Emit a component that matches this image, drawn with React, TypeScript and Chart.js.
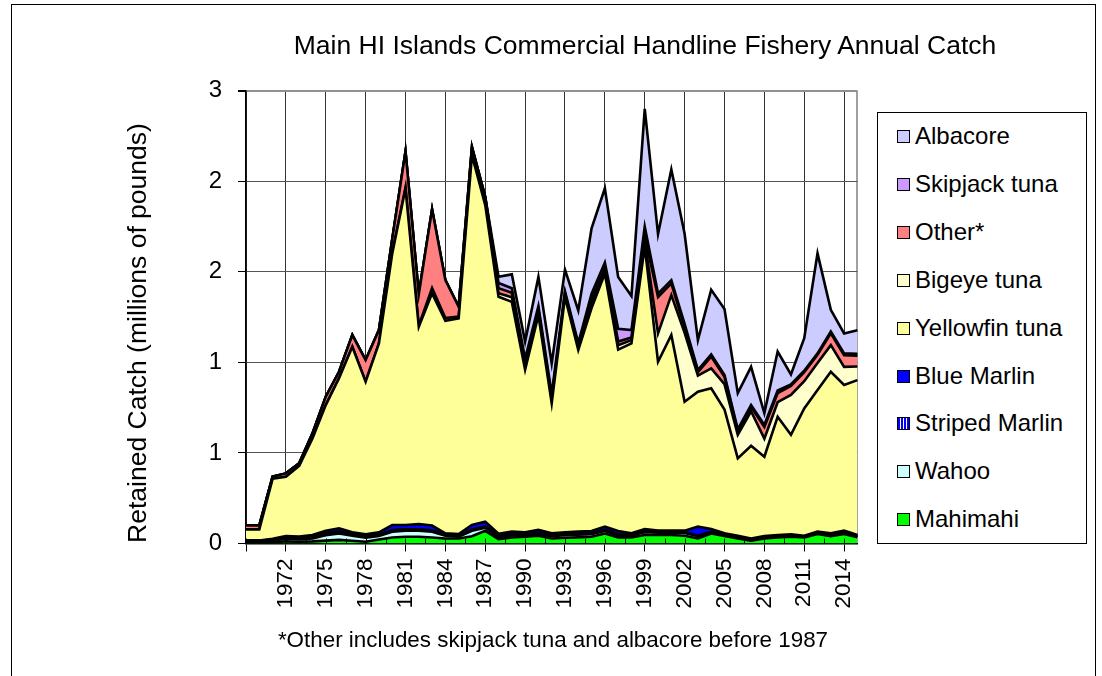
import React, { useEffect, useRef } from "react";
import { Chart, registerables } from "chart.js";

Chart.register(...registerables);

const FONT = "'Liberation Sans', Arial, sans-serif";

const years = [
  "1969", "1970", "1971", "1972", "1973", "1974", "1975", "1976", "1977", "1978",
  "1979", "1980", "1981", "1982", "1983", "1984", "1985", "1986", "1987", "1988",
  "1989", "1990", "1991", "1992", "1993", "1994", "1995", "1996", "1997", "1998",
  "1999", "2000", "2001", "2002", "2003", "2004", "2005", "2006", "2007", "2008",
  "2009", "2010", "2011", "2012", "2013", "2014", "2015",
];

const yTicks = [0, 0.5, 1, 1.5, 2, 2.5];

const mahimahi = [
  0.004, 0.004, 0.006, 0.012, 0.010, 0.012, 0.016, 0.020, 0.015, 0.010,
  0.022, 0.033, 0.037, 0.037, 0.033, 0.028, 0.028, 0.040, 0.070, 0.024,
  0.033, 0.037, 0.043, 0.028, 0.032, 0.034, 0.037, 0.055, 0.034, 0.034,
  0.047, 0.047, 0.047, 0.043, 0.028, 0.055, 0.041, 0.028, 0.015, 0.028,
  0.034, 0.037, 0.034, 0.052, 0.041, 0.052, 0.034,
];
const wahoo = [
  0.006, 0.006, 0.008, 0.016, 0.012, 0.016, 0.030, 0.035, 0.028, 0.022,
  0.019, 0.032, 0.033, 0.033, 0.032, 0.015, 0.009, 0.030, 0.017, 0.012,
  0.012, 0.008, 0.009, 0.012, 0.014, 0.014, 0.014, 0.014, 0.012, 0.010,
  0.015, 0.012, 0.012, 0.015, 0.012, 0.005, 0.003, 0.003, 0.003, 0.003,
  0.003, 0.003, 0.003, 0.004, 0.006, 0.008, 0.006,
];
const stripedMarlin = [
  0.003, 0.003, 0.004, 0.005, 0.008, 0.012, 0.010, 0.012, 0.008, 0.008,
  0.008, 0.010, 0.008, 0.008, 0.008, 0.005, 0.005, 0.008, 0.008, 0.006,
  0.006, 0.005, 0.006, 0.005, 0.005, 0.005, 0.005, 0.006, 0.005, 0.004,
  0.005, 0.004, 0.004, 0.004, 0.004, 0.004, 0.003, 0.003, 0.003, 0.003,
  0.003, 0.003, 0.002, 0.003, 0.003, 0.003, 0.002,
];
const blueMarlin = [
  0.004, 0.004, 0.008, 0.008, 0.008, 0.007, 0.015, 0.017, 0.011, 0.011,
  0.013, 0.027, 0.024, 0.029, 0.026, 0.008, 0.010, 0.025, 0.025, 0.012,
  0.015, 0.012, 0.017, 0.011, 0.011, 0.013, 0.013, 0.018, 0.018, 0.008,
  0.013, 0.008, 0.008, 0.009, 0.049, 0.016, 0.009, 0.009, 0.007, 0.007,
  0.007, 0.008, 0.004, 0.007, 0.006, 0.008, 0.005,
];
const yellowfin = [
  0.061, 0.061, 0.331, 0.328, 0.390, 0.533, 0.693, 0.828, 1.024, 0.842,
  1.043, 1.498, 1.858, 1.090, 1.282, 1.174, 1.191, 2.041, 1.748, 1.308,
  1.268, 0.898, 1.186, 0.718, 1.300, 1.002, 1.231, 1.398, 1.001, 1.049,
  1.560, 0.932, 1.080, 0.712, 0.745, 0.777, 0.684, 0.427, 0.512, 0.438,
  0.653, 0.549, 0.703, 0.781, 0.892, 0.804, 0.855,
];
const bigeye = [
  0, 0, 0, 0, 0, 0, 0, 0, 0, 0,
  0, 0.004, 0.005, 0.005, 0.030, 0.015, 0.010, 0.010, 0.010, 0.020,
  0.025, 0.020, 0.015, 0.015, 0.010, 0.013, 0.030, 0.015, 0.025, 0.018,
  0.030, 0.157, 0.220, 0.380, 0.089, 0.110, 0.140, 0.130, 0.190, 0.100,
  0.080, 0.220, 0.150, 0.150, 0.147, 0.100, 0.075,
];
const other = [
  0.022, 0.022, 0.012, 0.018, 0.015, 0.028, 0.046, 0.036, 0.065, 0.120,
  0.073, 0.075, 0.200, 0.174, 0.434, 0.209, 0.054, 0.035, 0.035, 0.028,
  0.025, 0.020, 0.015, 0.015, 0.010, 0.013, 0.020, 0.015, 0.020, 0.015,
  0.030, 0.200, 0.065, 0.030, 0.020, 0.065, 0.040, 0.020, 0.025, 0.065,
  0.050, 0.050, 0.050, 0.045, 0.065, 0.065, 0.060,
];
const skipjack = [
  0, 0, 0, 0, 0, 0, 0, 0, 0, 0,
  0, 0, 0, 0, 0, 0, 0, 0, 0, 0.028,
  0.025, 0.020, 0.020, 0.020, 0.010, 0.013, 0.030, 0.030, 0.070, 0.040,
  0.050, 0.020, 0.018, 0.020, 0.010, 0.012, 0.010, 0.010, 0.010, 0.010,
  0.015, 0.008, 0.008, 0.008, 0.010, 0.010, 0.010,
];
const albacore = [
  0, 0, 0, 0, 0, 0, 0, 0, 0, 0,
  0, 0, 0, 0, 0, 0, 0, 0, 0, 0.035,
  0.077, 0.094, 0.161, 0.170, 0.120, 0.180, 0.360, 0.410, 0.287, 0.188,
  0.650, 0.328, 0.611, 0.497, 0.166, 0.357, 0.365, 0.200, 0.210, 0.066,
  0.215, 0.055, 0.180, 0.552, 0.120, 0.110, 0.131,
];

const seriesNames = [
  "Mahimahi", "Wahoo", "Striped Marlin", "Blue Marlin", "Yellowfin tuna",
  "Bigeye tuna", "Other*", "Skipjack tuna", "Albacore",
];
const seriesData = [mahimahi, wahoo, stripedMarlin, blueMarlin, yellowfin, bigeye, other, skipjack, albacore];
const seriesColors = [
  "#00FF00", "#CCFFFF", "STRIPE", "#0000FF", "#FFFF99",
  "#FFFFCC", "#FF8080", "#CC99FF", "#CCCCFF",
];

const title = "Main HI Islands Commercial Handline Fishery Annual Catch";
const yTitle = "Retained Catch (millions of pounds)";
const footnote = "*Other includes skipjack tuna and albacore before 1987";

const W = 1102;
const H = 676;
const PLOT_LEFT = 246;
const PLOT_RIGHT = 857.4;
const PLOT_TOP = 90.7;
const PLOT_BOTTOM = 543.5;

export default function App() {
  const ref = useRef<HTMLCanvasElement>(null);

  useEffect(() => {
    const canvas = ref.current;
    if (!canvas) return;
    const ctx = canvas.getContext("2d")!;
    const pc = document.createElement("canvas");
    pc.width = 4;
    pc.height = 4;
    const pg = pc.getContext("2d")!;
    pg.fillStyle = "#0000FF";
    pg.fillRect(0, 0, 4, 4);
    pg.fillStyle = "#FFFFFF";
    pg.fillRect(2, 0, 1, 4);
    const stripe = ctx.createPattern(pc, "repeat");

    const minorTicks = {
      id: "minorTicks",
      afterDatasetsDraw(chart: any) {
        const xs = chart.scales.x;
        const c = chart.ctx;
        const bottom = chart.chartArea.bottom;
        c.save();
        c.strokeStyle = "#000";
        c.lineWidth = 1;
        for (let v = 0; v <= years.length - 1; v += 1.5) {
          const x = Math.round(xs.getPixelForValue(v)) + 0.5;
          c.beginPath();
          c.moveTo(x, bottom - 5);
          c.lineTo(x, bottom);
          c.stroke();
        }
        c.restore();
      },
    };

    const datasets = seriesData.map((d, i) => ({
      label: seriesNames[i],
      data: d,
      backgroundColor: seriesColors[i] === "STRIPE" ? stripe : seriesColors[i],
      borderColor: "#000000",
      borderWidth: 2.6,
      pointRadius: 0,
      tension: 0,
      fill: i === 0 ? "origin" : "-1",
    }));

    const chart = new Chart(ctx, {
      type: "line",
      data: { labels: years, datasets: datasets as any },
      plugins: [minorTicks],
      options: {
        responsive: false,
        animation: false,
        events: [],
        layout: {
          padding: { left: 0, right: W - PLOT_RIGHT, top: PLOT_TOP, bottom: 0 },
        },
        plugins: {
          legend: { display: false },
          title: { display: false },
          tooltip: { enabled: false },
        },
        scales: {
          x: {
            type: "category",
            offset: false,
            grid: {
              color: (c: any) =>
                c.index === years.length - 1
                  ? "#A0A0A0"
                  : c.index % 3 === 0
                  ? "#333333"
                  : "rgba(0,0,0,0)",
              lineWidth: (c: any) => (c.index === years.length - 1 ? 2 : 1),
              tickLength: 8,
              tickColor: (c: any) => (c.index % 3 === 0 ? "#000" : "rgba(0,0,0,0)"),
            },
            border: { color: "#000", width: 1.5 },
            ticks: {
              autoSkip: false,
              maxRotation: 90,
              minRotation: 90,
              padding: 7,
              color: "#000",
              font: { family: FONT, size: 22.5 },
              callback: (_v: any, i: number) => (i % 3 === 0 && i > 0 ? years[i] : ""),
            },
            afterFit: (s: any) => {
              s.height = H - PLOT_BOTTOM;
            },
          } as any,
          y: {
            stacked: true,
            min: 0,
            max: 2.5,
            afterBuildTicks: (s: any) => {
              s.ticks = yTicks.map((v) => ({ value: v }));
            },
            grid: {
              color: (c: any) => (c.index === yTicks.length - 1 ? "#909090" : "#555555"),
              lineWidth: (c: any) => (c.index === yTicks.length - 1 ? 2 : 1),
              tickLength: 8,
              tickColor: "#000",
            },
            border: { color: "#000", width: 1.5 },
            ticks: {
              padding: 16,
              color: "#000",
              font: { family: FONT, size: 24 },
              callback: (v: any) => String(Math.round(Number(v))),
            },
            afterFit: (s: any) => {
              s.width = PLOT_LEFT;
            },
          } as any,
        },
      },
    });
    return () => chart.destroy();
  }, []);

  const legendOrder = [...seriesNames.keys()].reverse();

  return (
    <div
      style={{
        position: "absolute",
        left: 0,
        top: 0,
        width: W,
        height: H,
        background: "#fff",
        overflow: "hidden",
        fontFamily: FONT,
        color: "#000",
      }}
    >
      <div
        style={{
          position: "absolute",
          left: 11,
          top: 4,
          width: 1085,
          height: 700,
          border: "1px solid #000",
          boxSizing: "border-box",
        }}
      />
      <canvas
        ref={ref}
        width={W}
        height={H}
        style={{ position: "absolute", left: 0, top: 0, width: W, height: H }}
      />
      <div
        style={{
          position: "absolute",
          left: 645 - 500,
          top: 30,
          width: 1000,
          textAlign: "center",
          fontSize: 26.5,
          lineHeight: "30px",
          whiteSpace: "nowrap",
        }}
      >
        {title}
      </div>
      <div
        style={{
          position: "absolute",
          left: 137 - 300,
          top: 333 - 15,
          width: 600,
          height: 30,
          lineHeight: "30px",
          textAlign: "center",
          fontSize: 26.5,
          whiteSpace: "nowrap",
          transform: "rotate(-90deg)",
          transformOrigin: "50% 50%",
        }}
      >
        {yTitle}
      </div>
      <div
        style={{
          position: "absolute",
          left: 553 - 400,
          top: 627,
          width: 800,
          textAlign: "center",
          fontSize: 22.4,
          lineHeight: "26px",
          whiteSpace: "nowrap",
        }}
      >
        {footnote}
      </div>
      <div
        style={{
          position: "absolute",
          left: 877,
          top: 112,
          width: 210,
          height: 432,
          border: "1px solid #000",
          boxSizing: "border-box",
          background: "#fff",
        }}
      >
        {legendOrder.map((si, k) => {
          const col = seriesColors[si];
          const bg =
            col === "STRIPE"
              ? "repeating-linear-gradient(90deg, #0000FF 0px, #0000FF 2px, #FFFFFF 2px, #FFFFFF 3px)"
              : col;
          return (
            <div
              key={si}
              style={{
                position: "absolute",
                left: 0,
                top: 135 - 112 - 15 + k * 47.9,
                height: 30,
                width: 208,
                display: "flex",
                alignItems: "center",
              }}
            >
              <div
                style={{
                  position: "absolute",
                  left: 19,
                  top: 9,
                  width: 13,
                  height: 13,
                  border: "1.5px solid #000",
                  boxSizing: "border-box",
                  background: bg,
                }}
              />
              <div
                style={{
                  position: "absolute",
                  left: 37,
                  top: 0,
                  lineHeight: "30px",
                  fontSize: 24,
                  whiteSpace: "nowrap",
                }}
              >
                {seriesNames[si]}
              </div>
            </div>
          );
        })}
      </div>
    </div>
  );
}
